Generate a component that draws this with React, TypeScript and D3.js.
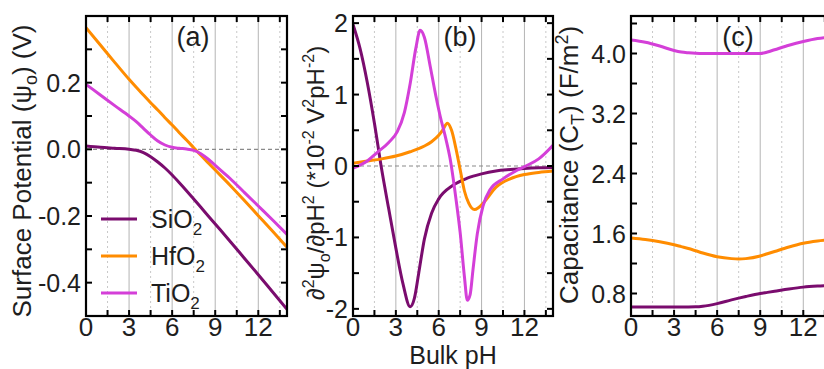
import React from "react";
import * as d3 from "d3";

// ---------- data ----------
const materials = ["SiO2", "HfO2", "TiO2"];
const colors = ["#7a0c6e", "#ff8c00", "#d43fd8"];

// panel (a): surface potential (V) vs bulk pH
const phA = [0, 1, 2, 3, 3.5, 4, 4.5, 5, 5.5, 6, 6.5, 7, 7.5, 8, 8.5, 9, 10, 11, 12, 13, 14];
const sio2A = [0.01, 0.006, 0.003, 0.0, -0.003, -0.01, -0.022, -0.038, -0.056, -0.077, -0.1, -0.124, -0.149, -0.174, -0.199, -0.224, -0.274, -0.325, -0.376, -0.428, -0.48];
const hfo2A = [0.365, 0.313, 0.261, 0.21, 0.186, 0.163, 0.14, 0.118, 0.095, 0.073, 0.05, 0.028, 0.005, -0.018, -0.04, -0.062, -0.106, -0.152, -0.199, -0.246, -0.294];
const tio2A = [0.195, 0.163, 0.131, 0.1, 0.083, 0.063, 0.043, 0.025, 0.013, 0.006, 0.003, 0.001, -0.003, -0.013, -0.029, -0.048, -0.086, -0.128, -0.17, -0.212, -0.255];

// panel (b): second derivative (*1e-2 V^2 pH^-2)
const sio2B_ph = [0, 0.5, 1, 1.5, 2, 2.5, 3, 3.5, 4, 4.3, 4.6, 5, 5.5, 6, 7, 8, 9, 10, 11, 12, 13, 14];
const sio2B = [1.98, 1.64, 1.17, 0.6, -0.04, -0.6, -1.15, -1.65, -1.97, -1.85, -1.5, -1.02, -0.66, -0.46, -0.27, -0.17, -0.11, -0.07, -0.05, -0.035, -0.025, -0.02];
const hfo2B_ph = [0, 1, 2, 3, 4, 5, 5.5, 6, 6.3, 6.6, 6.9, 7.2, 7.5, 7.8, 8.1, 8.5, 8.8, 9.2, 10, 11, 12, 13, 14];
const hfo2B = [0.04, 0.07, 0.1, 0.14, 0.2, 0.28, 0.34, 0.43, 0.51, 0.6, 0.5, 0.25, -0.05, -0.35, -0.52, -0.61, -0.58, -0.5, -0.3, -0.18, -0.12, -0.09, -0.07];
const tio2B_ph = [0, 1, 1.7, 2.5, 3.1, 3.6, 4, 4.4, 4.7, 5, 5.4, 5.8, 6.1, 6.5, 6.8, 7.2, 7.5, 7.8, 8, 8.2, 8.4, 8.7, 9.1, 9.6, 10.5, 11.3, 12.1, 13, 14];
const tio2B = [-0.03, 0.07, 0.19, 0.33, 0.48, 0.75, 1.15, 1.65, 1.9, 1.8, 1.4, 0.98, 0.7, 0.38, 0.1, -0.45, -0.93, -1.55, -1.88, -1.8, -1.45, -0.95, -0.56, -0.33, -0.18, -0.08, 0.0, 0.1, 0.29];

// panel (c): capacitance (F/m^2)
const phC = [0, 1, 2, 3, 3.5, 4, 4.5, 5, 6, 7, 7.5, 8, 9, 9.5, 10, 11, 12, 13, 14];
const sio2C = [0.62, 0.62, 0.62, 0.62, 0.62, 0.62, 0.622, 0.63, 0.665, 0.715, 0.738, 0.76, 0.8, 0.815, 0.83, 0.86, 0.885, 0.9, 0.91];
const hfo2C = [1.54, 1.52, 1.49, 1.45, 1.425, 1.4, 1.37, 1.34, 1.29, 1.265, 1.26, 1.265, 1.3, 1.33, 1.36, 1.42, 1.47, 1.5, 1.52];
const tio2C = [4.18, 4.15, 4.1, 4.04, 4.02, 4.01, 4.003, 4.0, 4.0, 4.0, 4.0, 4.0, 4.0, 4.02, 4.05, 4.11, 4.16, 4.2, 4.22];

const xTicksMajor = [0, 3, 6, 9, 12];
const xTicksMinor = [1.5, 4.5, 7.5, 10.5, 13.5];
const yTicksA = [-0.5, -0.4, -0.3, -0.2, -0.1, 0, 0.1, 0.2, 0.3, 0.4];
const yLabelsA = [-0.4, -0.2, 0, 0.2];
const yTicksB = [-2, -1.5, -1, -0.5, 0, 0.5, 1, 1.5, 2];
const yLabelsB = [-2, -1, 0, 1, 2];
const yTicksC = [0.8, 1.2, 1.6, 2.0, 2.4, 2.8, 3.2, 3.6, 4.0, 4.4];
const yLabelsC = [0.8, 1.6, 2.4, 3.2, 4.0];

const FONT = "'Liberation Sans', Arial, Helvetica, sans-serif";
const TOP = 16;
const BOTTOM = 316;
const TEXT = "#1e1e1e";
const TICKFS = 25;

type Series = { x: number[]; y: number[]; color: string };

const hyphen = (s: string) => s.replace("\u2212", "-");

function Panel(props: {
  id: string;
  left: number;
  right: number;
  yDomain: [number, number];
  yTicks: number[];
  yLabels: number[];
  fmt: (v: number) => string;
  series: Series[];
  zeroLine: boolean;
  tag: string;
  tagX: number;
}) {
  const { id, left, right, yDomain, yTicks, yLabels, fmt, series, zeroLine, tag, tagX } = props;
  const x = d3.scaleLinear().domain([0, 14]).range([left, right]);
  const y = d3.scaleLinear().domain(yDomain).range([BOTTOM, TOP]);
  const tl = 6;
  return (
    <g>
      <defs>
        <clipPath id={"clip" + id}>
          <rect x={left} y={TOP} width={right - left} height={BOTTOM - TOP} />
        </clipPath>
      </defs>
      {xTicksMajor.slice(1).map((t) => (
        <line key={"g" + t} x1={x(t)} x2={x(t)} y1={TOP} y2={BOTTOM} stroke="#b4b4b4" strokeWidth={1} />
      ))}
      {xTicksMinor.map((t) => (
        <line key={"gm" + t} x1={x(t)} x2={x(t)} y1={TOP} y2={BOTTOM} stroke="#c8c8c8" strokeWidth={1} strokeDasharray="2,3" />
      ))}
      {zeroLine && (
        <line x1={left} x2={right} y1={y(0)} y2={y(0)} stroke="#8a8a8a" strokeWidth={1.2} strokeDasharray="4,3" />
      )}
      <g clipPath={`url(#clip${id})`}>
        {series.map((s, i) => {
          const pts = s.x.map((v, k) => [v, s.y[k]] as [number, number]);
          const path = d3
            .line<[number, number]>()
            .x((d) => x(d[0]))
            .y((d) => y(d[1]))
            .curve(d3.curveMonotoneX)(pts);
          return <path key={i} d={path || ""} fill="none" stroke={s.color} strokeWidth={3} strokeLinejoin="round" />;
        })}
      </g>
      {[...xTicksMajor, ...xTicksMinor].map((t) => (
        <g key={"xt" + t}>
          <line x1={x(t)} x2={x(t)} y1={BOTTOM} y2={BOTTOM - tl} stroke="#000" strokeWidth={2} />
          <line x1={x(t)} x2={x(t)} y1={TOP} y2={TOP + tl} stroke="#000" strokeWidth={2} />
        </g>
      ))}
      {yTicks.map((t) => (
        <g key={"yt" + t}>
          <line x1={left} x2={left + tl} y1={y(t)} y2={y(t)} stroke="#000" strokeWidth={2} />
          <line x1={right} x2={right - tl} y1={y(t)} y2={y(t)} stroke="#000" strokeWidth={2} />
        </g>
      ))}
      <rect x={left} y={TOP} width={right - left} height={BOTTOM - TOP} fill="none" stroke="#000" strokeWidth={2.2} />
      {xTicksMajor.map((t) => (
        <text key={"xl" + t} x={x(t)} y={335.5} textAnchor="middle" fontSize={TICKFS + 1} fontFamily={FONT} fill={TEXT}>
          {t}
        </text>
      ))}
      {yLabels.map((t) => (
        <text key={"yl" + t} x={left - 5} y={y(t) + 9} textAnchor="end" fontSize={TICKFS} fontFamily={FONT} fill={TEXT}>
          {hyphen(fmt(t))}
        </text>
      ))}
      <text x={tagX} y={46} textAnchor="middle" fontSize={27} fontFamily={FONT} fill={TEXT}>
        {tag}
      </text>
    </g>
  );
}

export default function App() {
  const mk = (xs: number[][], ys: number[][]): Series[] => ys.map((y, i) => ({ x: xs[i], y, color: colors[i] }));
  const legendY = [219, 256, 293];
  return (
    <svg
      width={824}
      height={369}
      style={{ position: "absolute", left: 0, top: 0, background: "#fff" }}
      fontFamily={FONT}
    >
      <rect width={824} height={369} fill="#fff" />
      <Panel
        id="a"
        left={86}
        right={287}
        yDomain={[-0.5, 0.4]}
        yTicks={yTicksA}
        yLabels={yLabelsA}
        fmt={(v) => (Math.abs(v) < 1e-9 ? "0.0" : d3.format(".1f")(v))}
        series={mk([phA, phA, phA], [sio2A, hfo2A, tio2A])}
        zeroLine={true}
        tag="(a)"
        tagX={193}
      />
      <Panel
        id="b"
        left={353}
        right={553}
        yDomain={[-2.1, 2.1]}
        yTicks={yTicksB}
        yLabels={yLabelsB}
        fmt={(v) => d3.format("d")(v)}
        series={mk([sio2B_ph, hfo2B_ph, tio2B_ph], [sio2B, hfo2B, tio2B])}
        zeroLine={true}
        tag="(b)"
        tagX={460}
      />
      <Panel
        id="c"
        left={631}
        right={832}
        yDomain={[0.5, 4.5]}
        yTicks={yTicksC}
        yLabels={yLabelsC}
        fmt={(v) => d3.format(".1f")(v)}
        series={mk([phC, phC, phC], [sio2C, hfo2C, tio2C])}
        zeroLine={false}
        tag="(c)"
        tagX={738}
      />
      {materials.map((m, i) => (
        <g key={m}>
          <line x1={101} x2={137} y1={legendY[i]} y2={legendY[i]} stroke={colors[i]} strokeWidth={3} />
          <text x={151} y={legendY[i] + 9} fontSize={25} fontFamily={FONT} fill={TEXT}>
            {m.slice(0, 3)}
            <tspan fontSize={17} dy={7}>{m.slice(3)}</tspan>
          </text>
        </g>
      ))}
      <text transform="translate(31,171) rotate(-90)" textAnchor="middle" fontSize={26} fontFamily={FONT} fill={TEXT}>
        Surface Potential (ψ<tspan fontSize={18} dy={6}>o</tspan>
        <tspan dy={-6}>) (V)</tspan>
      </text>
      <text transform="translate(324,173) rotate(-90)" textAnchor="middle" fontSize={24} fontFamily={FONT} fill={TEXT}>
        ∂<tspan fontSize={16} dy={-10}>2</tspan>
        <tspan dy={10}>ψ</tspan>
        <tspan fontSize={16} dy={6}>o</tspan>
        <tspan dy={-6}>/∂pH</tspan>
        <tspan fontSize={16} dy={-10}>2</tspan>
        <tspan dy={10}> (*10</tspan>
        <tspan fontSize={16} dy={-10}>-2</tspan>
        <tspan dy={10}> V</tspan>
        <tspan fontSize={16} dy={-10}>2</tspan>
        <tspan dy={10}>pH</tspan>
        <tspan fontSize={16} dy={-10}>-2</tspan>
        <tspan dy={10}>)</tspan>
      </text>
      <text transform="translate(578,165) rotate(-90)" textAnchor="middle" fontSize={26} fontFamily={FONT} fill={TEXT}>
        Capacitance (C<tspan fontSize={18} dy={6}>T</tspan>
        <tspan dy={-6}>) (F/m</tspan>
        <tspan fontSize={18} dy={-10}>2</tspan>
        <tspan dy={10}>)</tspan>
      </text>
      <text x={453} y={363.6} textAnchor="middle" fontSize={25} fontFamily={FONT} fill={TEXT}>
        Bulk pH
      </text>
    </svg>
  );
}
